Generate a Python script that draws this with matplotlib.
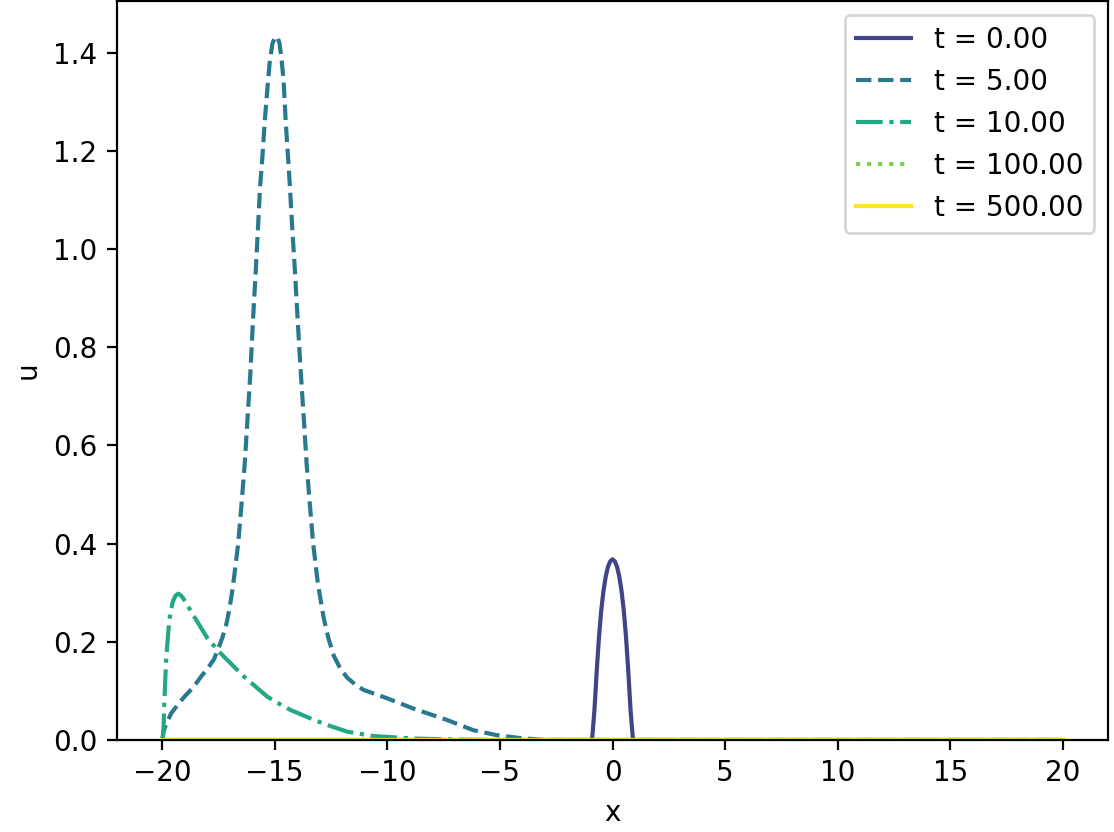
import numpy as np
import matplotlib
matplotlib.use('Agg')
import matplotlib.pyplot as plt

# values
labels = ['t = 0.00', 't = 5.00', 't = 10.00', 't = 100.00', 't = 500.00']

x_t0 = [-20, -0.95, -0.9, -0.8, -0.7, -0.6, -0.5, -0.4, -0.3, -0.2, -0.1, 0.0,
        0.1, 0.2, 0.3, 0.4, 0.5, 0.6, 0.7, 0.8, 0.9, 0.95, 20]
u_t0 = [0, 0, 0.005, 0.062, 0.141, 0.210, 0.264, 0.304, 0.333, 0.353, 0.364, 0.368,
        0.364, 0.353, 0.333, 0.304, 0.264, 0.210, 0.141, 0.062, 0.005, 0, 0]

x_t5 = [-20, -19.93, -19.82, -19.6, -19.3, -19.01, -18.6, -18.27, -17.95, -17.69,
        -17.5, -17.31, -17.15, -17.02, -16.9, -16.8, -16.62, -16.47, -16.33, -16.21,
        -16.09, -15.94, -15.84, -15.74, -15.65, -15.54, -15.44, -15.32, -15.22,
        -15.1, -14.99, -14.88, -14.78, -14.68, -14.6, -14.51, -14.41, -14.32,
        -14.22, -14.1, -14.0, -13.89, -13.8, -13.7, -13.58, -13.44, -13.29,
        -13.08, -12.82, -12.6, -12.38, -12.08, -11.78, -11.4, -11.05, -10.5,
        -10.01, -8.84, -7.36, -6.18, -5.15, -4.12, -3.0, 20]
u_t5 = [0, 0.018, 0.032, 0.054, 0.072, 0.088, 0.108, 0.129, 0.147, 0.165,
        0.186, 0.21, 0.235, 0.264, 0.298, 0.332, 0.40, 0.481, 0.562, 0.650,
        0.738, 0.874, 0.955, 1.043, 1.125, 1.19, 1.26, 1.328, 1.38,
        1.418, 1.431, 1.432, 1.418, 1.38, 1.34, 1.26, 1.19, 1.125,
        1.043, 0.955, 0.874, 0.786, 0.72, 0.650, 0.562, 0.481, 0.40,
        0.318, 0.248, 0.205, 0.172, 0.145, 0.127, 0.112, 0.102, 0.093,
        0.085, 0.064, 0.041, 0.020, 0.010, 0.004, 0, 0]

x_t10 = [-20, -19.96, -19.93, -19.9, -19.82, -19.68, -19.53, -19.4, -19.28, -19.15,
         -19.01, -18.57, -17.98, -17.39, -16.36, -15.32, -14.73, -14.29, -13.26,
         -12.5, -11.78, -10.6, -8.84, -7.0, -5.5, 20]
u_t10 = [0, 0.004, 0.03, 0.075, 0.163, 0.244, 0.281, 0.294, 0.298, 0.294,
         0.285, 0.251, 0.207, 0.176, 0.129, 0.088, 0.072, 0.061, 0.041,
         0.028, 0.017, 0.008, 0.003, 0.001, 0, 0]

x_t100 = [-20, 20]
u_t100 = [0, 0]

x_t500 = [-20, 20]
u_t500 = [0, 0]

xs = [x_t0, x_t5, x_t10, x_t100, x_t500]
us = [u_t0, u_t5, u_t10, u_t100, u_t500]
styles = ['-', '--', '-.', ':', '-']
colors = plt.cm.viridis(np.linspace(0, 1, 6))[1:]

fig = plt.figure(figsize=(1114 / 200, 832 / 200), dpi=200)
ax = fig.add_axes([117 / 1114, 92 / 832, (1108 - 117) / 1114, (740 - 1) / 832])
for i in range(len(labels)):
    ax.plot(xs[i], us[i], linestyle=styles[i], color=colors[i], label=labels[i])
ax.set_xlim(-22, 22)
ax.set_ylim(0, 1.505)
ax.set_xlabel('x')
ax.set_ylabel('u')
ax.legend(loc='upper right')
fig.savefig('out.png', dpi=200)
